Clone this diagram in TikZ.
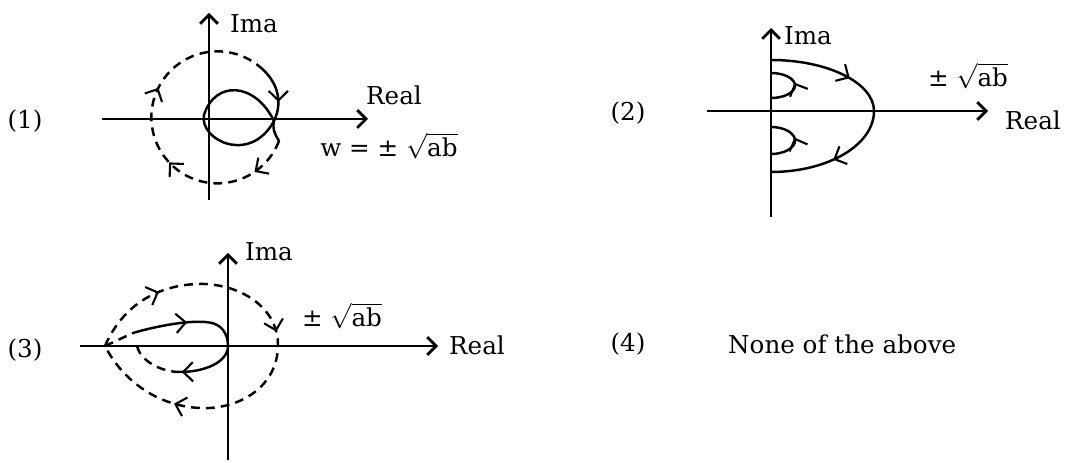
\documentclass[tikz,border=0pt]{standalone}
\usepackage{amsmath}
\usepackage{fontspec}
\setmainfont{DejaVu Serif}
\usetikzlibrary{positioning,arrows.meta,decorations.markings}

\begin{document}
\begin{tikzpicture}[x=0.02cm, y=0.02cm,
  font=\fontsize{14}{17}\selectfont,
  axis/.style={line width=1.6pt, -{Straight Barb[length=5pt,width=10pt]}},
  locus/.style={line width=1.4pt},
  hidden/.style={line width=1.4pt, dash pattern=on 5pt off 3.5pt},
  mid/.style={postaction={decorate, decoration={markings,
      mark=at position #1 with {\arrow[solid,line width=1.2pt]{Straight Barb[length=5.5pt,width=11pt]}}}}}
]
\useasboundingbox (0,0) rectangle (1069,-462);

% option (1)
\coordinate (O1) at (209,-119);
\coordinate (W1) at (102,-119);
\coordinate (E1) at (368,-119);
\coordinate (S1) at (209,-200);
\coordinate (N1) at (209,-13);
\coordinate (A1) at (260,-67);
\coordinate (X1) at (274,-121);
\coordinate (B1) at (279,-141);
\draw[axis] (W1) -- (E1);
\draw[axis] (S1) -- (N1);
\node (n1) at (25,-121) {(1)};
\node (ima1) at (254,-24) {Ima};
\node (re1) at (394,-95) {Real};
\node (w1) at (389,-146) {w = ± $\sqrt{\text{ab}}$};
\draw[locus, mid=0.5] (A1) .. controls (276,-80) and (284,-100) .. (X1)
  .. controls (272,-130) and (276,-136) .. (B1);
\draw[hidden, mid=0.12, mid=0.4, mid=0.64] (B1) arc[start angle=-21, end angle=-311, radius=66];
\draw[locus] (X1) .. controls (255,-82) and (215,-80) .. (204,-115)
  .. controls (199,-140) and (250,-165) .. (X1);

% option (2)
\coordinate (O2) at (771,-111);
\coordinate (W2) at (707,-111);
\coordinate (E2) at (988,-111);
\coordinate (S2) at (771,-217);
\coordinate (N2) at (771,-28);
\draw[axis] (W2) -- (E2);
\draw[axis] (S2) -- (N2);
\node (n2) at (628,-113) {(2)};
\node (ima2) at (808,-36) {Ima};
\node (ab2) at (968,-76) {± $\sqrt{\text{ab}}$};
\node (re2) at (1033,-120) {Real};
\draw[locus, mid=0.32, mid=0.75] (771,-60) .. controls (828,-60) and (874,-83) .. (874,-111)
  .. controls (874,-145) and (828,-172) .. (771,-172);
\draw[locus, mid=0.55] (771,-98) arc[start angle=-90, end angle=90, x radius=24, y radius=12.5];
\draw[locus, mid=0.55] (771,-154) arc[start angle=-90, end angle=90, x radius=24, y radius=13.5];

% option (3)
\coordinate (O3) at (228,-346);
\coordinate (W3) at (80,-346);
\coordinate (E3) at (438,-346);
\coordinate (S3) at (228,-460);
\coordinate (N3) at (228,-253);
\coordinate (L3) at (105,-346);
\coordinate (U3) at (133,-333);
\coordinate (D3) at (180,-372);
\draw[axis] (W3) -- (E3);
\draw[axis] (S3) -- (N3);
\node (n3) at (25,-350) {(3)};
\node (ima3) at (269,-252) {Ima};
\node (ab3) at (342,-316) {± $\sqrt{\text{ab}}$};
\node (re3) at (477,-345) {Real};
\draw[hidden, mid=0.17, mid=0.47, mid=0.8] (L3) .. controls (125,-300) and (165,-283) .. (205,-284)
  .. controls (245,-286) and (278,-310) .. (278,-345)
  .. controls (278,-380) and (250,-405) .. (210,-408)
  .. controls (165,-410) and (125,-385) .. (L3);
\draw[hidden] (L3) -- (U3);
\draw[locus, mid=0.5] (U3) .. controls (160,-325) and (200,-318) .. (215,-324)
  .. controls (225,-328) and (228,-338) .. (O3);
\draw[locus, mid=0.97] (O3) .. controls (228,-362) and (205,-372) .. (D3);
\draw[hidden] (D3) .. controls (160,-372) and (140,-360) .. (137,-346);

% option (4)
\node (n4) at (628,-344) {(4)};
\node[anchor=west] (none4) at (722,-344) {None of the above};
\end{tikzpicture}
\end{document}
